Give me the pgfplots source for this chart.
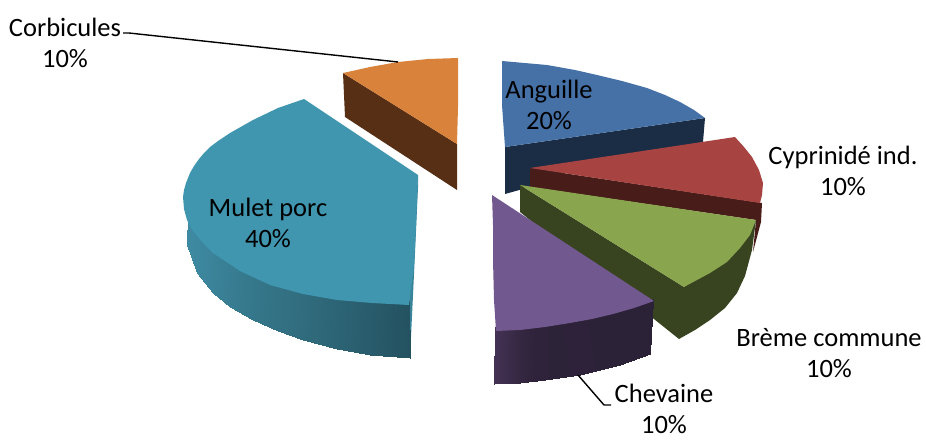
\documentclass[border=0pt]{standalone}
\usepackage{pgfplots}
\pgfplotsset{compat=1.18}
\usepackage{fontspec}
\setmainfont{Carlito}
\definecolor{bl}{HTML}{4571A7}
\definecolor{bld}{HTML}{1A2D45}
\definecolor{rd}{HTML}{A74441}
\definecolor{rdd}{HTML}{481C19}
\definecolor{gr}{HTML}{89A54E}
\definecolor{grd}{HTML}{384320}
\definecolor{pu}{HTML}{71588F}
\definecolor{te}{HTML}{4095AF}
\definecolor{or}{HTML}{D8823C}
\definecolor{ord}{HTML}{562F14}
\definecolor{tes}{HTML}{3A849A}
\tikzset{lb/.style={align=center,inner sep=0pt,font=\fontsize{26.5}{31}\selectfont}}
\pgfplotsset{sl/.style={fill=#1,draw=none,forget plot,mark=none},ld/.style={black,line width=1.4pt,forget plot,mark=none},
colormap={teal}{rgb255=(62,138,162) rgb255=(50,112,130) rgb255=(36,82,97)},
colormap={pur}{rgb255=(68,50,84) rgb255=(46,35,58) rgb255=(44,34,56)}}
\begin{document}
\begin{tikzpicture}
\begin{axis}[scale only axis,width=926pt,height=439pt,xmin=0,xmax=926,ymin=0,ymax=439,y dir=reverse,hide axis,clip=false,point meta min=0,point meta max=1]
% Anguille
\addplot[sl=bld] coordinates {(505,147)(705,118)(703,142)(530,180)(530,187)(505,194)} --cycle;
\addplot[sl=bl] coordinates {(502,61)(547,65)(575,70)(597,75)(622,81)(647,88)(665,95)(680,102)(694,110)(705,118)(505,147)(502,105)} --cycle;
% Cyprinide
\addplot[sl=rdd] coordinates {(530,168)(762,203)(761,222)(753,252)(756,220)(530,187)} --cycle;
\addplot[sl=rd] coordinates {(530,168)(735,137)(744,147)(752,157)(759,170)(763,183)(762,195)(760,203)} --cycle;
% Breme
\addplot[sl=grd] coordinates {(520,185)(684,287)(756,220)(752,250)(745,276)(737,293)(725,308)(710,320)(695,330)(679,339)(520,212)} --cycle;
\addplot[sl=gr] coordinates {(520,185)(756,220)(750,235)(740,248)(727,262)(710,273)(697,280)(684,287)} --cycle;
% Chevaine side
\addplot[patch,patch type=rectangle,shader=interp,colormap name=pur,point meta=explicit,forget plot] coordinates {
(495,327)[0](520,326)[0.35](520,383)[0.35](494,384)[0]
(520,326)[0.35](545,323)[0.6](545,380)[0.6](520,383)[0.35]
(545,323)[0.6](570,319)[0.8](580,375)[0.8](545,380)[0.6]
(570,319)[0.8](613,309)[1](620,365)[1](580,375)[0.8]
(613,309)[1](653,299)[1](650,354)[1](620,365)[1]};
\addplot[sl=pu] coordinates {(492,195)(654,301)(634,308)(613,314)(592,319)(570,323)(545,327)(520,330)(496,331)(494,300)(493,260)(493,225)} --cycle;
% Mulet porc
\addplot[sl=tes] coordinates {(418,175)(418,187)(415,253)(410,358)(408,305)} --cycle;
\addplot[patch,patch type=rectangle,shader=interp,colormap name=teal,point meta=explicit,forget plot] coordinates {
(188,214)[0](199,232)[0.05](197,273)[0.05](187,245)[0]
(199,232)[0.05](215,249)[0.15](213,293)[0.15](197,273)[0.05]
(215,249)[0.15](232,262)[0.25](230,307)[0.25](213,293)[0.15]
(232,262)[0.25](255,273)[0.37](253,320)[0.37](230,307)[0.25]
(255,273)[0.37](280,283)[0.47](278,331)[0.47](253,320)[0.37]
(280,283)[0.47](305,290)[0.57](303,340)[0.57](278,331)[0.47]
(305,290)[0.57](338,296)[0.7](337,349)[0.7](303,340)[0.57]
(338,296)[0.7](372,299)[0.84](370,355)[0.84](337,349)[0.7]
(372,299)[0.84](409,301)[1](410,358)[1](370,355)[0.84]};
\addplot[sl=te] coordinates {(304,99)(418,175)(416,225)(414,265)(409,305)(372,303)(337,300)(303,294)(270,285)(240,271)(213,253)(205,245)(197,236)(191,228)(187,220)(184,209)(183,197)(184,190)(186,183)(190,173)(194,166)(199,159)(204,153)(210,147)(218,141)(230,133)(253,120)(278,108)} --cycle;
% Corbicules
\addplot[sl=ord] coordinates {(343,73)(457,144)(457,190)(345,117)} --cycle;
\addplot[sl=or] coordinates {(458,58)(428,59)(398,62)(370,67)(343,73)(457,144)(458,107)} --cycle;
% leaders
\addplot[ld] coordinates {(123,33)(129,33)(398,62)};
\addplot[ld] coordinates {(578,375)(604,405)(611,405)};
\node[lb] at (axis cs:65,43) {Corbicules\\10\%};
\node[lb] at (axis cs:549,105) {Anguille\\20\%};
\node[lb] at (axis cs:843,171) {Cyprinidé ind.\\10\%};
\node[lb] at (axis cs:829,353) {Brème commune\\10\%};
\node[lb] at (axis cs:664,409) {Chevaine\\10\%};
\node[lb] at (axis cs:268,223) {Mulet porc\\40\%};
\end{axis}
\path (0,0) rectangle (926pt,439pt);
\end{tikzpicture}
\end{document}
